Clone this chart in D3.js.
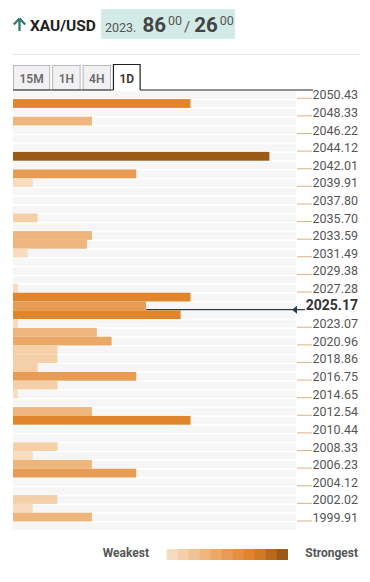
<!DOCTYPE html>
<html>
<head>
<meta charset="utf-8">
<script src="https://cdn.jsdelivr.net/npm/d3@7"></script>
<style>
  html, body { margin: 0; padding: 0; background: #fff; }
  text { font-family: Roboto, "Noto Sans", sans-serif; }
</style>
</head>
<body>
<div id="chart"></div>
<script>
// confluence rows, top (highest price) to bottom
const rowValues = [0, 36, 0, 16, 0, 0, 0, 52, 0, 25,
                   4, 0, 0, 0, 5, 0, 16, 15, 3, 0,
                   0, 0, 1, 36, 27, 34, 1, 17, 20, 9,
                   9, 5, 25, 9, 1, 0, 16, 36, 0, 0,
                   9, 4, 16, 25, 0, 0, 9, 4, 16, 0];
const priceLabels = ["2050.43", "2048.33", "2046.22", "2044.12", "2042.01", "2039.91", "2037.80",
                     "2035.70", "2033.59", "2031.49", "2029.38", "2027.28", "2025.17", "2023.07",
                     "2020.96", "2018.86", "2016.75", "2014.65", "2012.54", "2010.44", "2008.33",
                     "2006.23", "2004.12", "2002.02", "1999.91"];
const currentPrice = "2025.17";
const strengthColors = ["#f7dcc0", "#f4cfa8", "#f1c292", "#eeb57c", "#eba867", "#e89c53",
                        "#e4903f", "#e0852c", "#d07923", "#b86a1c", "#9c5a17"];
const tabs = ["15M", "1H", "4H", "1D"];
const activeTab = "1D";
const pair = "XAU/USD";
const quote = {prefix: "2023.", bid: "86", bidSup: "00", ask: "26", askSup: "00"};

const width = 370, height = 582;
const left = 13, right = 296;

const svg = d3.select("#chart")
    .append("svg")
    .attr("width", width)
    .attr("height", height);

// header
svg.append("path")
    .attr("d", "M19.5,18.5 L13.8,24.5 M19.5,18.5 L25.2,24.5 M19.5,18.5 L19.5,31")
    .attr("fill", "none")
    .attr("stroke", "#2e7d6c")
    .attr("stroke-width", 2.3);

svg.append("text")
    .attr("x", 30).attr("y", 30.5)
    .attr("font-size", 15.5).attr("font-weight", 700)
    .attr("fill", "#222")
    .text(pair);

svg.append("rect")
    .attr("x", 101).attr("y", 9)
    .attr("width", 134).attr("height", 30)
    .attr("fill", "#d3ebe6");

const q = svg.append("text")
    .attr("x", 105).attr("y", 32)
    .attr("fill", "#444");
q.append("tspan").attr("font-size", 12.5).attr("fill", "#555").text(quote.prefix);
q.append("tspan").attr("dx", 6).attr("font-size", 20.5).attr("font-weight", 700).text(quote.bid);
q.append("tspan").attr("dx", 2).attr("dy", -7).attr("font-size", 12.5).attr("fill", "#555").text(quote.bidSup);
q.append("tspan").attr("dx", 2).attr("dy", 7).attr("font-size", 15).attr("fill", "#555").text("/");
q.append("tspan").attr("dx", 4).attr("font-size", 20.5).attr("font-weight", 700).text(quote.ask);
q.append("tspan").attr("dx", 2).attr("dy", -7).attr("font-size", 12.5).attr("fill", "#555").text(quote.askSup);

svg.append("line")
    .attr("x1", 13).attr("x2", 360)
    .attr("y1", 54.5).attr("y2", 54.5)
    .attr("stroke", "#e6e6e6");

// tabs
const tabG = svg.append("g");
let tx = 13.5;
let activeX = [0, 0];
tabs.forEach(function (t) {
    const g = tabG.append("g");
    const isActive = t === activeTab;
    const label = g.append("text")
        .attr("y", 82.5)
        .attr("font-size", 12).attr("font-weight", 600)
        .attr("fill", isActive ? "#333" : "#6b6b6b")
        .attr("text-anchor", "middle")
        .text(t);
    const w = label.node().getComputedTextLength() + 12;
    label.attr("x", tx + w / 2);
    if (isActive) {
        g.insert("path", "text")
            .attr("d", `M${tx},90 V64.5 H${tx + w} V90`)
            .attr("fill", "#fff")
            .attr("stroke", "#222")
            .attr("stroke-width", 1.2);
        activeX = [tx, tx + w];
    } else {
        g.insert("rect", "text")
            .attr("x", tx).attr("y", 65.5)
            .attr("width", w).attr("height", 24.5)
            .attr("fill", "#f1f1f3")
            .attr("stroke", "#aaa")
            .attr("stroke-width", 0.8);
    }
    tx += w + 3;
});
svg.append("line").attr("x1", 13).attr("x2", activeX[0])
    .attr("y1", 90).attr("y2", 90).attr("stroke", "#222").attr("stroke-width", 1.2);
svg.append("line").attr("x1", activeX[1]).attr("x2", 313)
    .attr("y1", 90).attr("y2", 90).attr("stroke", "#222").attr("stroke-width", 1.2);

// scales
const y = d3.scaleBand()
    .domain(d3.range(rowValues.length))
    .range([90.3, 530.3]);

const x = d3.scaleLinear()
    .domain([0, 57.4])
    .range([left, right]);

const color = d3.scaleQuantize()
    .domain([0, d3.max(rowValues)])
    .range(strengthColors);

const priceY = d3.scaleLinear()
    .domain([+priceLabels[0], +priceLabels[priceLabels.length - 1]])
    .range([y(1) - 0.8, y(rowValues.length - 1) - 0.5]);

// background stripes
svg.append("g").selectAll("rect")
    .data(rowValues)
    .join("rect")
    .attr("x", left)
    .attr("y", (d, i) => y(i) + 1.2)
    .attr("width", right - left)
    .attr("height", y.bandwidth() - 1.8)
    .attr("fill", "#f6f6f7");

// current price line (sits under the bars)
const cp = +currentPrice;
const cpY = priceY(cp);
const cpRow = Math.floor((cpY - 90.3) / y.bandwidth());
svg.append("line")
    .attr("x1", x(rowValues[cpRow]))
    .attr("x2", 305)
    .attr("y1", cpY).attr("y2", cpY)
    .attr("stroke", "#2c3b4c")
    .attr("stroke-width", 1.1);

// bars
svg.append("g").selectAll("rect")
    .data(rowValues)
    .join("rect")
    .attr("x", x(0))
    .attr("y", (d, i) => y(i))
    .attr("width", d => x(d) - x(0))
    .attr("height", y.bandwidth())
    .attr("fill", d => color(d));

svg.append("path")
    .attr("d", `M292,${cpY} L297,${cpY - 4} L297,${cpY + 4} Z`)
    .attr("fill", "#2c3b4c");

// price ticks
const ticks = svg.append("g").selectAll("g")
    .data(priceLabels)
    .join("g")
    .attr("transform", d => `translate(0,${priceY(+d)})`);

ticks.filter(d => d !== currentPrice)
    .append("line")
    .attr("x1", 297).attr("x2", 312)
    .attr("stroke", "#d6b57c")
    .attr("stroke-width", 1);

ticks.append("text")
    .attr("x", 358)
    .attr("y", d => d === currentPrice ? 0 : 1)
    .attr("text-anchor", "end")
    .attr("font-size", d => d === currentPrice ? 14 : 12.5)
    .attr("font-weight", d => d === currentPrice ? 700 : 400)
    .attr("fill", d => d === currentPrice ? "#333" : "#555")
    .text(d => d);

// legend
const legend = svg.append("g");
legend.append("text")
    .attr("x", 149).attr("y", 556.5)
    .attr("text-anchor", "end")
    .attr("font-size", 12).attr("font-weight", 700)
    .attr("fill", "#555")
    .text("Weakest");

const lx = d3.scaleBand()
    .domain(d3.range(strengthColors.length))
    .range([166.7, 287.7]);

legend.selectAll("rect")
    .data(strengthColors)
    .join("rect")
    .attr("x", (d, i) => lx(i))
    .attr("y", 549)
    .attr("width", lx.bandwidth() + 0.3)
    .attr("height", 11)
    .attr("fill", d => d);

legend.append("text")
    .attr("x", 358).attr("y", 556.5)
    .attr("text-anchor", "end")
    .attr("font-size", 12).attr("font-weight", 700)
    .attr("fill", "#555")
    .text("Strongest");
</script>
</body>
</html>
